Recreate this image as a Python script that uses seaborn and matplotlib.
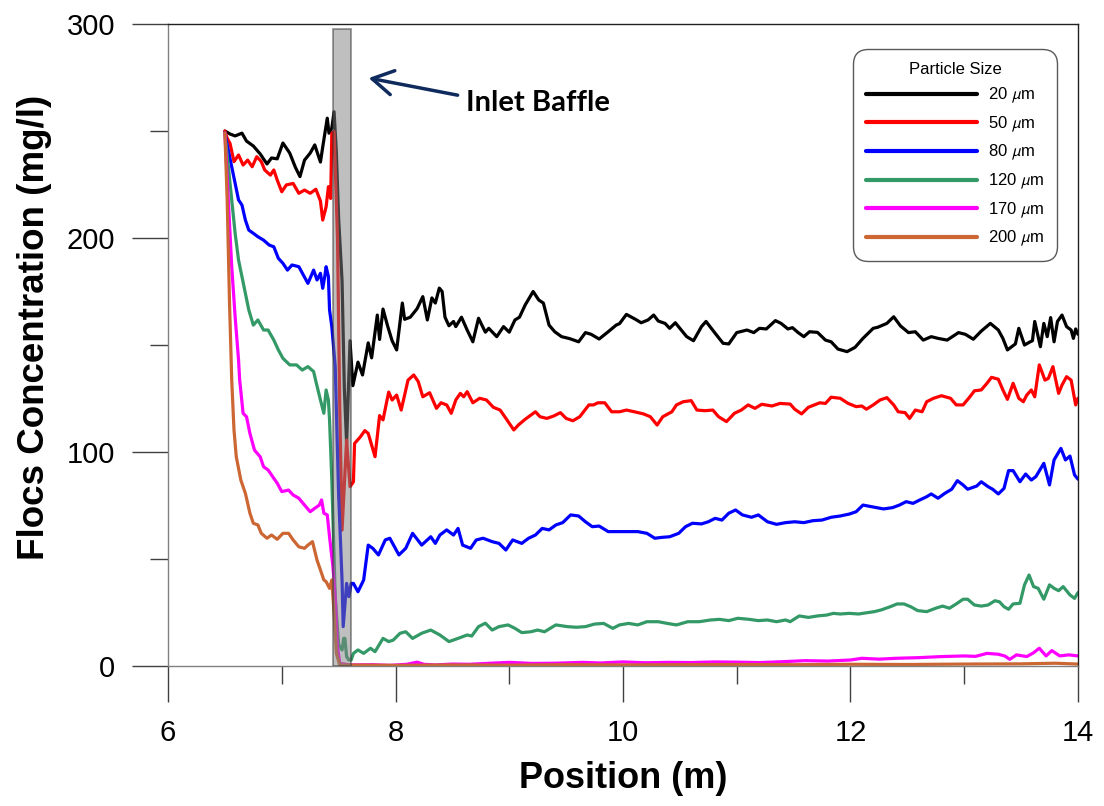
import numpy as np
import pandas as pd
import matplotlib
matplotlib.use("Agg")
import matplotlib.pyplot as plt
import matplotlib.patches as patches
import seaborn as sns

# particle sizes (legend labels)
sizes = ["20 $\\mu$m", "50 $\\mu$m", "80 $\\mu$m", "120 $\\mu$m", "170 $\\mu$m", "200 $\\mu$m"]
colors = ["#000000", "#ff0000", "#0000ff", "#339966", "#ff00ff", "#cc6633"]

# 20 um
x_20 = [6.50, 6.545, 6.59, 6.65, 6.69, 6.75, 6.81, 6.87, 6.91, 6.96, 7.01, 7.07, 7.12, 7.16, 7.20, 7.25, 7.29,
        7.34, 7.36, 7.40, 7.415, 7.44, 7.46, 7.48, 7.50, 7.53, 7.55, 7.57, 7.60, 7.625, 7.67, 7.71, 7.76, 7.79,
        7.84, 7.86, 7.89, 7.93, 7.97, 8.01, 8.06, 8.08, 8.13, 8.19, 8.24, 8.28, 8.32, 8.35, 8.385, 8.41, 8.435,
        8.47, 8.51, 8.53, 8.58, 8.63, 8.68, 8.73, 8.79, 8.82, 8.89, 8.95, 9.0, 9.05, 9.09, 9.14, 9.21, 9.26, 9.30,
        9.35, 9.40, 9.46, 9.53, 9.61, 9.67, 9.72, 9.79, 9.87, 9.94, 9.97, 10.03, 10.11, 10.16, 10.22, 10.27,
        10.31, 10.37, 10.41, 10.46, 10.50, 10.56, 10.62, 10.69, 10.73, 10.81, 10.88, 10.93, 11.0, 11.09, 11.15,
        11.20, 11.26, 11.34, 11.39, 11.45, 11.49, 11.54, 11.59, 11.64, 11.71, 11.78, 11.83, 11.89, 11.97, 12.04,
        12.11, 12.20, 12.24, 12.32, 12.38, 12.44, 12.51, 12.57, 12.64, 12.71, 12.77, 12.85, 12.95, 13.01, 13.08,
        13.15, 13.23, 13.30, 13.34, 13.38, 13.45, 13.48, 13.53, 13.58, 13.60, 13.62, 13.67, 13.70, 13.73, 13.76,
        13.79, 13.82, 13.86, 13.90, 13.94, 13.96, 13.98, 14.0]
y_20 = [250, 248.6, 247.7, 249, 245.3, 243, 239.3, 234.6, 237.4, 237, 244.4, 239.7, 233, 228.7, 236.4, 239.7, 243.5,
        235.5, 242.5, 256, 249, 251.4, 259, 240, 209, 180, 130, 104, 152, 131, 142, 136, 151, 144,
        164, 152.6, 166.8, 159, 152, 147.7, 169.6, 162, 163, 167, 172.6, 161.7, 172, 169.6, 176.6, 175, 163,
        159, 161, 158.6, 163, 157, 151.5, 162.5, 156, 157.8, 153.9, 158.6, 156, 161.7, 163, 168.7, 175, 171, 169.6,
        159.3, 156.2, 153.9, 153, 151.5, 155.8, 155, 152.8, 156.2, 159.3, 160, 164.3, 162, 160.4, 161.7, 164,
        161.2, 160.1, 157.8, 160.4, 157.8, 153.9, 152, 158.6, 161, 155.5, 150.8, 150.5, 155.8, 157, 155.8,
        157.8, 157.5, 161.4, 160.1, 157.5, 158.1, 155.8, 153.9, 156.2, 155.9, 152.3, 151.5, 148.1, 146.9, 148.9,
        153.1, 157.8, 158.3, 160.1, 163.2, 158.9, 155.8, 156.2, 152.3, 153.9, 153.1, 152.3, 155.8, 155, 152.7,
        156.5, 160.1, 157, 153.1, 147.7, 150.5, 157.8, 150, 151.5, 152, 161, 149.2, 160.1, 153.9, 162.8,
        151.5, 161, 164, 158.6, 157, 153.1, 157.5, 155]

# 50 um
x_50 = [6.50, 6.52, 6.545, 6.58, 6.62, 6.66, 6.70, 6.74, 6.78, 6.82, 6.85, 6.90, 6.93, 6.96, 7.0, 7.04, 7.10, 7.15,
        7.20, 7.25, 7.30, 7.34, 7.36, 7.39, 7.41, 7.43, 7.44, 7.46, 7.49, 7.51, 7.53, 7.57, 7.60, 7.63, 7.64,
        7.69, 7.73, 7.76, 7.82, 7.86, 7.89, 7.94, 7.97, 8.01, 8.05, 8.11, 8.16, 8.20, 8.24, 8.30, 8.36, 8.40,
        8.45, 8.49, 8.53, 8.57, 8.60, 8.63, 8.68, 8.74, 8.80, 8.86, 8.92, 8.98, 9.04, 9.08, 9.14, 9.23, 9.27,
        9.33, 9.39, 9.45, 9.50, 9.56, 9.62, 9.70, 9.74, 9.78, 9.84, 9.90, 9.97, 10.03, 10.10, 10.18, 10.24,
        10.30, 10.35, 10.43, 10.47, 10.53, 10.60, 10.65, 10.72, 10.79, 10.84, 10.91, 10.98, 11.04, 11.10,
        11.16, 11.22, 11.31, 11.38, 11.47, 11.51, 11.57, 11.63, 11.73, 11.78, 11.83, 11.91, 11.98, 12.05,
        12.10, 12.14, 12.20, 12.26, 12.32, 12.38, 12.42, 12.48, 12.52, 12.57, 12.63, 12.67, 12.73, 12.80,
        12.88, 12.93, 12.99, 13.05, 13.09, 13.15, 13.20, 13.24, 13.30, 13.34, 13.38, 13.43, 13.48, 13.52,
        13.55, 13.59, 13.62, 13.66, 13.71, 13.74, 13.78, 13.83, 13.86, 13.90, 13.94, 13.98, 14.0]
y_50 = [250, 246.6, 244.2, 235.7, 238.8, 234.1, 236.4, 233.3, 238, 235.7, 231.8, 229.4, 231.8, 227.1, 221.6, 224.8,
        225.5, 220.9, 222.4, 220.9, 222.8, 217.3, 208.4, 214.6, 224, 218.5, 248.9, 249.7, 200, 120, 63.5, 105.6,
        83.8, 86.1, 104, 107, 110, 108.7, 97.8, 117, 115, 128, 124.3, 126.6, 119.6, 133.6, 136, 132.9, 125.8,
        127.7, 120.4, 123, 122, 118.1, 124.3, 127.4, 125.8, 128.2, 123, 125.1, 124.3, 120.9, 119.6, 115, 110.3,
        112.6, 115.3, 118.8, 116.5, 115.7, 116.8, 118.4, 115.7, 114.6, 116.5, 122, 122, 123, 123, 118.8, 118.8,
        119.6, 118.8, 117.8, 116.5, 112.6, 116.5, 118.8, 122, 123.5, 124, 119.6, 119.3, 119.6, 116.5, 114.2,
        118.1, 119.6, 122, 120.4, 122.3, 121.5, 122.7, 122.4, 120, 117.8, 120.9, 123, 122.7, 125.6, 125.1, 122.7,
        121.2, 121.5, 120, 122, 124.3, 125.4, 122, 118.8, 118.4, 115.7, 119.6, 118.8, 123.5, 125.1, 126.3, 125.1,
        122, 122, 125.8, 128.6, 129, 132.1, 134.9, 134, 129, 124.6, 132.1, 125.1, 123.5, 126.6, 129, 125.8,
        140.7, 133.6, 134.4, 139.9, 127.4, 131.3, 135.2, 133.6, 122, 125.1]

# 80 um
x_80 = [6.50, 6.53, 6.56, 6.59, 6.62, 6.65, 6.68, 6.71, 6.75, 6.79, 6.84, 6.89, 6.93, 6.97, 7.01, 7.05, 7.09, 7.15,
        7.19, 7.23, 7.28, 7.31, 7.34, 7.36, 7.38, 7.39, 7.41, 7.42, 7.44, 7.47, 7.50, 7.53, 7.54, 7.57, 7.59,
        7.61, 7.63, 7.67, 7.72, 7.76, 7.80, 7.85, 7.91, 7.95, 8.03, 8.09, 8.15, 8.23, 8.31, 8.35, 8.39, 8.45,
        8.51, 8.55, 8.59, 8.66, 8.71, 8.77, 8.85, 8.91, 8.97, 9.03, 9.11, 9.17, 9.23, 9.29, 9.35, 9.41, 9.47,
        9.54, 9.61, 9.67, 9.73, 9.79, 9.87, 9.95, 10.03, 10.13, 10.21, 10.28, 10.34, 10.41, 10.49, 10.55, 10.61,
        10.69, 10.75, 10.81, 10.87, 10.93, 10.99, 11.05, 11.13, 11.19, 11.27, 11.35, 11.43, 11.51, 11.59, 11.67,
        11.75, 11.83, 11.91, 11.99, 12.05, 12.11, 12.19, 12.29, 12.37, 12.43, 12.49, 12.55, 12.61, 12.67, 12.71,
        12.77, 12.83, 12.89, 12.94, 12.99, 13.03, 13.11, 13.15, 13.21, 13.25, 13.30, 13.35, 13.39, 13.43, 13.49,
        13.54, 13.59, 13.63, 13.70, 13.75, 13.79, 13.85, 13.89, 13.93, 13.97, 14.0]
y_80 = [249, 241, 233.3, 225.5, 217.8, 215.4, 208.4, 203.7, 202.2, 200.6, 199, 196.7, 195.9, 190.5, 188.2, 185,
        187.4, 186.6, 182.7, 178.8, 185, 180.4, 183.5, 176.5, 182.7, 186.6, 182, 166.4, 158.6, 139.9, 80, 40,
        18.4, 38.6, 32.4, 38.6, 38.6, 34.7, 40.2, 56.5, 55, 51.9, 58.9, 59.7, 51.9, 55, 62, 56.5, 60.4, 57.3,
        61.2, 63.6, 61.2, 64.3, 56.5, 55, 58.9, 59.7, 58.1, 57.3, 54.2, 58.9, 57.3, 59.7, 61.2, 64.3, 63.6, 65.9,
        67, 70.6, 70.1, 67.4, 65.1, 65.4, 62.8, 62.8, 62.8, 62.8, 62, 59.7, 60.1, 60.4, 62, 65.1, 66.7, 66.4,
        67.4, 69, 68.2, 71.4, 72.9, 70.6, 69.5, 70.6, 67.4, 66.2, 67, 67.4, 67, 67.9, 68.2, 69.5, 70.1, 71, 72.1,
        75.2, 74.4, 73.4, 74, 75.2, 76.8, 76, 77.6, 79.1, 80.4, 78.4, 80.7, 82.6, 86.6, 84.6, 82.6, 84.1, 86.1,
        83.8, 82.6, 80.4, 83, 91.3, 91.3, 86.1, 89.7, 86.9, 88.5, 94.7, 84.6, 96.3, 101.7, 96.3, 98.1, 89.3, 87.3]

# 120 um
x_120 = [6.50, 6.53, 6.56, 6.59, 6.62, 6.65, 6.68, 6.71, 6.75, 6.79, 6.84, 6.88, 6.93, 6.97, 7.01, 7.07, 7.13,
         7.18, 7.23, 7.28, 7.30, 7.34, 7.37, 7.39, 7.41, 7.42, 7.44, 7.47, 7.50, 7.53, 7.545, 7.555, 7.57, 7.59,
         7.61, 7.63, 7.67, 7.72, 7.78, 7.82, 7.89, 7.94, 7.98, 8.04, 8.09, 8.15, 8.23, 8.31, 8.39, 8.47, 8.55,
         8.63, 8.67, 8.73, 8.79, 8.85, 8.91, 8.99, 9.05, 9.11, 9.19, 9.25, 9.31, 9.41, 9.51, 9.59, 9.67, 9.75,
         9.83, 9.91, 9.97, 10.05, 10.13, 10.21, 10.31, 10.39, 10.47, 10.57, 10.67, 10.77, 10.85, 10.93, 11.01,
         11.11, 11.19, 11.27, 11.35, 11.43, 11.47, 11.55, 11.63, 11.71, 11.79, 11.85, 11.91, 11.99, 12.07, 12.15,
         12.21, 12.27, 12.35, 12.41, 12.47, 12.53, 12.59, 12.67, 12.75, 12.81, 12.87, 12.93, 12.99, 13.03, 13.09,
         13.15, 13.21, 13.27, 13.31, 13.35, 13.39, 13.43, 13.49, 13.53, 13.57, 13.61, 13.65, 13.70, 13.75, 13.79,
         13.83, 13.87, 13.93, 13.97, 14.0]
y_120 = [249, 233.3, 217.8, 202.2, 189.7, 181.9, 174.2, 166.4, 159.3, 161.7, 157, 157, 152.3, 147.7, 143.8, 140.7,
         140.7, 138.3, 139.9, 137.6, 133, 124.3, 118.1, 129, 124.3, 115, 86.9, 32.4, 10, 7.5, 12.9, 12.9, 4.4, 2.8,
         2.8, 5.9, 7.5, 5.9, 8.3, 6.7, 12.9, 11.4, 12.1, 15.3, 16, 12.9, 15.3, 16.8, 14.5, 11.4, 12.9, 14.5, 14,
         18.4, 20, 16.8, 18.4, 19.2, 17.6, 15.6, 16, 16.8, 16, 19.2, 18.4, 18.1, 18.4, 19.6, 19.9, 17.6, 19.2,
         19.9, 19.2, 20.7, 20.7, 19.9, 19.2, 20.7, 20.7, 21.5, 21.8, 21.2, 22.3, 21.8, 21.2, 21.5, 20.7, 21.5,
         20.7, 23.4, 22.7, 23.4, 23.8, 24.6, 24.3, 24.6, 24.3, 24.9, 25.4, 26.2, 27.7, 29, 29, 27.7, 25.9, 25.4,
         27, 28, 27, 29, 31.2, 31.2, 28.5, 28, 28.5, 30.5, 30, 27.7, 26.5, 29, 29.3, 37.9, 42.5, 37.1, 36.3, 31.2,
         37.9, 36.3, 35.2, 37.1, 33.2, 31.6, 34.3]

# 170 um
x_170 = [6.50, 6.53, 6.56, 6.59, 6.62, 6.63, 6.66, 6.69, 6.72, 6.76, 6.81, 6.84, 6.88, 6.93, 6.96, 7.0, 7.06, 7.10,
         7.15, 7.20, 7.25, 7.29, 7.33, 7.35, 7.37, 7.40, 7.42, 7.45, 7.47, 7.49, 7.51, 7.6, 7.8, 7.95, 8.1, 8.19,
         8.25, 8.35, 8.5, 8.65, 8.8, 9.0, 9.2, 9.4, 9.65, 9.8, 10.0, 10.2, 10.4, 10.6, 10.8, 11.0, 11.2, 11.4,
         11.6, 11.8, 12.0, 12.1, 12.25, 12.4, 12.6, 12.8, 13.0, 13.1, 13.2, 13.3, 13.36, 13.4, 13.46, 13.55,
         13.61, 13.66, 13.72, 13.77, 13.84, 13.92, 14.0]
y_170 = [249, 217.8, 186.6, 163.2, 143, 133.6, 118.1, 116.5, 108.7, 100.9, 97.8, 93.1, 91.6, 87.7, 85.4, 81.5,
         82.2, 79.9, 78.4, 75.2, 72.1, 73.7, 75.2, 77.6, 71.4, 70.6, 60.4, 46.4, 32.4, 9, 1.2, 0.5, 0.6, 0.3, 0.8,
         1.8, 0.8, 0.5, 0.9, 0.8, 1.2, 1.7, 1.2, 1.3, 1.7, 1.4, 1.9, 1.5, 1.7, 1.6, 1.9, 1.8, 1.6, 2.0, 2.5, 2.3,
         2.8, 3.6, 3.2, 3.6, 3.9, 4.4, 4.7, 4.5, 5.9, 5.5, 4.6, 3.1, 5.2, 4.4, 6.2, 8.3, 4.7, 7.2, 4.7, 5.2, 4.7]

# 200 um
x_200 = [6.50, 6.52, 6.54, 6.56, 6.58, 6.60, 6.64, 6.68, 6.72, 6.75, 6.79, 6.82, 6.87, 6.91, 6.96, 7.01, 7.06,
         7.10, 7.15, 7.20, 7.23, 7.27, 7.31, 7.33, 7.37, 7.39, 7.42, 7.44, 7.46, 7.48, 7.51, 8.0, 8.5, 9.0, 9.5,
         10.0, 10.5, 11.0, 11.5, 12.0, 12.5, 13.0, 13.5, 13.8, 14.0]
y_200 = [249, 217.8, 171, 133.6, 110.3, 97.8, 86.9, 80.7, 71.4, 66.7, 65.9, 62, 59.7, 61.2, 59.2, 62, 62, 58.9,
         55.7, 55, 56.5, 58.1, 49.5, 46.4, 40.2, 39.4, 36.3, 40.2, 24.6, 5.9, 0.5, 0.3, 0.5, 0.4, 0.6, 0.5, 0.6,
         0.7, 0.6, 0.8, 0.7, 0.9, 1.0, 1.3, 0.9]

xs = [x_20, x_50, x_80, x_120, x_170, x_200]
ys = [y_20, y_50, y_80, y_120, y_170, y_200]
df = pd.concat([pd.DataFrame({"position": x, "conc": y, "size": s}) for x, y, s in zip(xs, ys, sizes)],
               ignore_index=True)

sns.set_theme(style="ticks")
plt.rcParams["font.family"] = ["Liberation Sans", "DejaVu Sans"]
plt.rcParams["mathtext.fontset"] = "stixsans"

fig = plt.figure(figsize=(11.04, 8.06), dpi=100)
ax = fig.add_axes([0.1522, 0.1737, 0.8242, 0.7965])

sns.lineplot(data=df, x="position", y="conc", hue="size", hue_order=sizes,
             palette=dict(zip(sizes, colors)), estimator=None, sort=False, linewidth=2.3, ax=ax)

# inlet baffle
baffle = patches.Rectangle((7.45, 0), 0.16, 297.5, facecolor="#808080", alpha=0.5,
                           edgecolor="#303030", linewidth=1.3, zorder=5)
ax.add_patch(baffle)
ax.annotate("", xy=(7.74, 275), xytext=(8.57, 266.5),
            arrowprops=dict(arrowstyle="->,head_length=0.6,head_width=0.35", color="#0f2a5c",
                            lw=2.5, mutation_scale=25))
ax.text(8.62, 263, "Inlet Baffle", fontsize=21, fontweight="bold", family=["Lato", "DejaVu Sans"],
        ha="left", va="center", color="black")

ax.set_xlim(6, 14)
ax.set_ylim(0, 300)
ax.set_xticks([6, 8, 10, 12, 14])
ax.set_xticks([7, 9, 11, 13], minor=True)
ax.set_yticks([0, 100, 200, 300])
ax.set_yticks([50, 150, 250], minor=True)
ax.tick_params(which="major", direction="out", length=26, width=1, color="#404040",
               labelsize=21, pad=12, labelcolor="black")
ax.tick_params(which="minor", direction="out", length=13, width=1, color="#404040")

for side in ["left", "bottom"]:
    ax.spines[side].set_color("#808080")
for side in ["top", "right"]:
    ax.spines[side].set_color("#202020")
for sp in ax.spines.values():
    sp.set_linewidth(1)

ax.set_xlabel("Position (m)", fontsize=26, fontweight="bold", labelpad=10, color="black")
ax.set_ylabel("Flocs Concentration (mg/l)", fontsize=26.5, fontweight="bold", color="black")
ax.yaxis.set_label_coords(-0.128, 0.528)

leg = ax.legend(title="Particle Size", loc="upper right", bbox_to_anchor=(0.977, 0.961), borderaxespad=0,
                fontsize=12, title_fontsize=12, handlelength=6.7, handletextpad=0.65, labelspacing=0.56,
                frameon=True, fancybox=True, borderpad=0.75)
leg.get_frame().set_edgecolor("#303030")
leg.get_frame().set_linewidth(1)
leg.get_frame().set_boxstyle("round,pad=0,rounding_size=0.9")
for h in leg.get_lines():
    h.set_linewidth(3)
for t in leg.get_texts():
    t.set_color("black")
leg.get_title().set_color("black")

fig.savefig("out.png", dpi=100)
